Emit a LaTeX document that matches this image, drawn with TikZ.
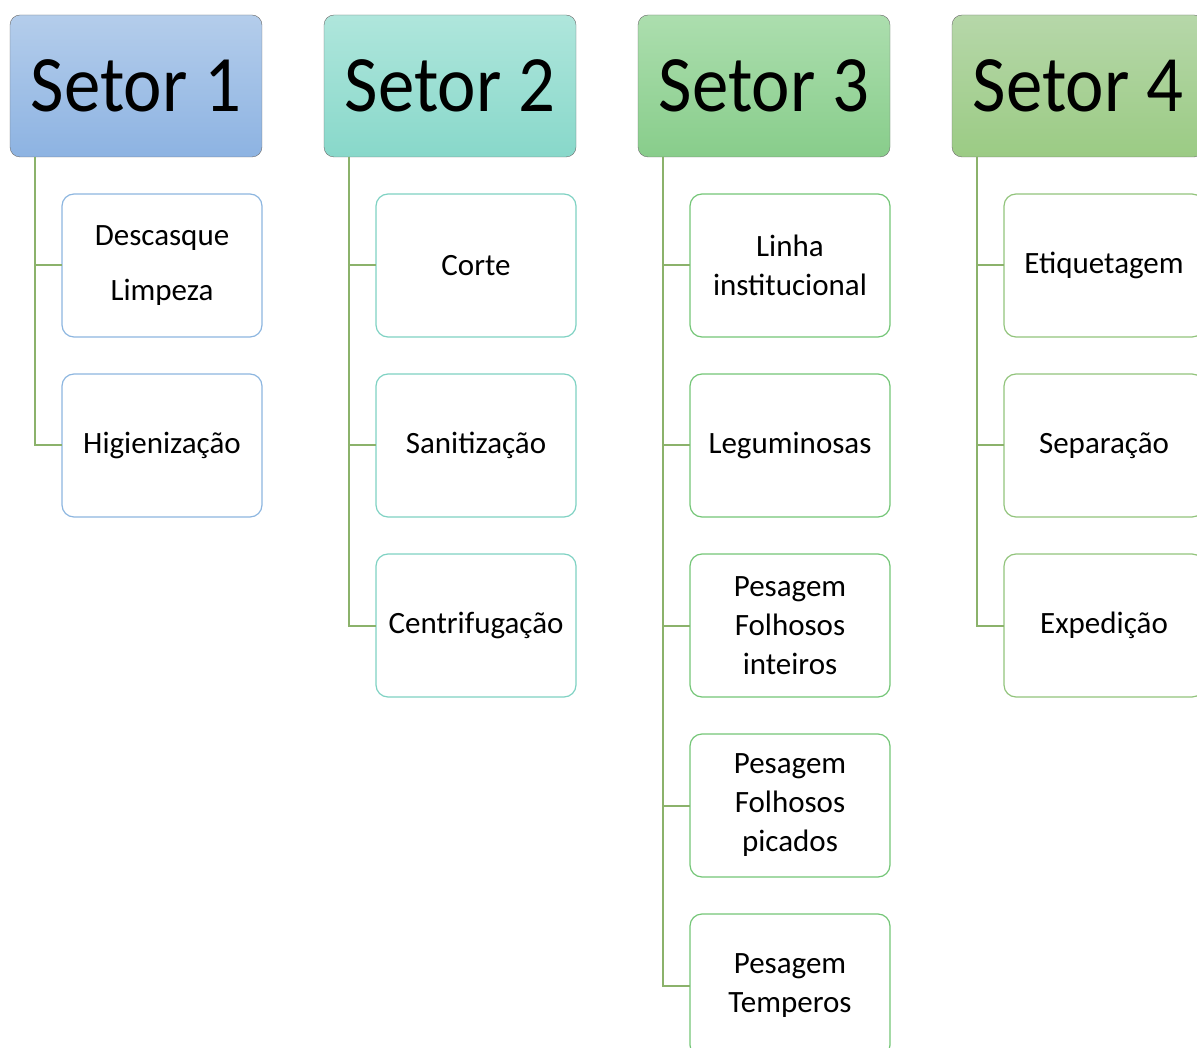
\documentclass[tikz,border=0pt]{standalone}
\usepackage{fontspec}
\setmainfont{Carlito}
\newfontfamily\hdrfont[FakeStretch=0.91]{Carlito}
\usetikzlibrary{positioning}
\definecolor{hdrline}{HTML}{6B6B6B}
\definecolor{lineg}{HTML}{8BB26B}
\definecolor{topA}{HTML}{B4CDEB}
\definecolor{botA}{HTML}{8DB3E2}
\definecolor{topB}{HTML}{AFE6DC}
\definecolor{botB}{HTML}{88D8CA}
\definecolor{topC}{HTML}{ACDEAE}
\definecolor{botC}{HTML}{88CD8B}
\definecolor{topD}{HTML}{B6D7A9}
\definecolor{botD}{HTML}{9BCB84}
\definecolor{edgeA}{HTML}{8DB6E0}
\definecolor{edgeB}{HTML}{7FD2C3}
\definecolor{edgeC}{HTML}{74C677}
\definecolor{edgeD}{HTML}{92C47C}

\begin{document}
\begin{tikzpicture}[x=1pt,y=-1pt,
    header/.style={draw=hdrline, rounded corners=10pt, minimum width=252pt,
        minimum height=142pt, inner sep=0pt, outer sep=0pt,
        font=\hdrfont\fontsize{80}{90}\selectfont},
    child/.style={draw, line width=1.2pt, fill=white, rounded corners=12pt, minimum width=200pt,
        minimum height=143pt, inner sep=2pt, outer sep=0pt, align=center,
        font=\fontsize{31}{39}\selectfont},
    conn/.style={draw=lineg, line width=2pt}]
    \useasboundingbox (0,0) rectangle (1197,1048);
    \clip (0,0) rectangle (1197,1048);

    % Headers
    \node[header, top color=topA, bottom color=botA] (s1) at (136,86) {Setor 1};
    \node[header, top color=topB, bottom color=botB] (s2) at (450,86) {Setor 2};
    \node[header, top color=topC, bottom color=botC] (s3) at (764,86) {Setor 3};
    \node[header, top color=topD, bottom color=botD] (s4) at (1078,86) {Setor 4};

    % Setor 1
    \node[child, draw=edgeA, anchor=north west, below right=37pt and 52pt of s1.south west] (c11) {Descasque\\[16pt] Limpeza};
    \node[child, draw=edgeA, below=37pt of c11] (c12) {Higienização};

    % Setor 2
    \node[child, draw=edgeB, anchor=north west, below right=37pt and 52pt of s2.south west] (c21) {Corte};
    \node[child, draw=edgeB, below=37pt of c21] (c22) {Sanitização};
    \node[child, draw=edgeB, below=37pt of c22] (c23) {Centrifugação};

    % Setor 3
    \node[child, draw=edgeC, anchor=north west, below right=37pt and 52pt of s3.south west] (c31) {Linha\\ institucional};
    \node[child, draw=edgeC, below=37pt of c31] (c32) {Leguminosas};
    \node[child, draw=edgeC, below=37pt of c32] (c33) {Pesagem\\ Folhosos\\ inteiros};
    \node[child, draw=edgeC, below=37pt of c33] (c34) {Pesagem\\ Folhosos\\ picados};
    \node[child, draw=edgeC, below=37pt of c34] (c35) {Pesagem\\ Temperos};

    % Setor 4
    \node[child, draw=edgeD, anchor=north west, below right=37pt and 52pt of s4.south west] (c41) {Etiquetagem};
    \node[child, draw=edgeD, below=37pt of c41] (c42) {Separação};
    \node[child, draw=edgeD, below=37pt of c42] (c43) {Expedição};

    % Connectors
    \coordinate (t1) at ([xshift=25pt]s1.south west);
    \coordinate (t2) at ([xshift=25pt]s2.south west);
    \coordinate (t3) at ([xshift=25pt]s3.south west);
    \coordinate (t4) at ([xshift=25pt]s4.south west);
    \foreach \c in {c11,c12} \draw[conn] (t1) |- (\c.west);
    \foreach \c in {c21,c22,c23} \draw[conn] (t2) |- (\c.west);
    \foreach \c in {c31,c32,c33,c34,c35} \draw[conn] (t3) |- (\c.west);
    \foreach \c in {c41,c42,c43} \draw[conn] (t4) |- (\c.west);
\end{tikzpicture}
\end{document}
